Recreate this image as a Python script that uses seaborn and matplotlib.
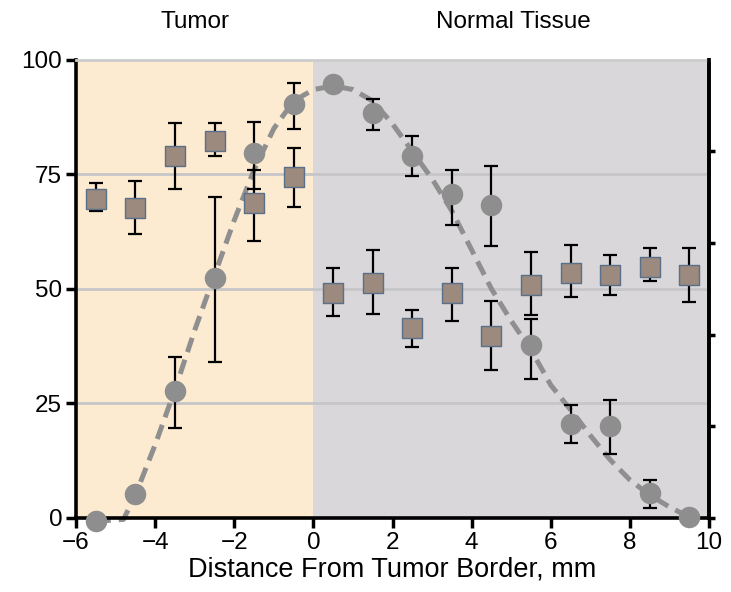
import numpy as np
import matplotlib.pyplot as plt
import matplotlib.transforms as mtransforms
import seaborn as sns

# Distance bins (mm from tumor border)
dist = [-5.5, -4.5, -3.5, -2.5, -1.5, -0.5, 0.5, 1.5, 2.5, 3.5, 4.5, 5.5, 6.5, 7.5, 8.5, 9.5]

# Circle series (mean, lower, upper)
circ = [-0.7, 5.2, 27.7, 52.4, 79.7, 90.4, 94.7, 88.4, 78.9, 70.7, 68.3, 37.8, 20.5, 20.1, 5.5, 0.2]
circ_lo = [-0.7, 5.2, 19.7, 34.0, 71.8, 85.0, 94.7, 84.7, 74.7, 64.0, 59.4, 30.3, 16.4, 14.0, 2.2, 0.2]
circ_hi = [-0.7, 5.2, 35.2, 70.0, 86.5, 95.0, 94.7, 91.5, 83.3, 76.0, 76.9, 43.4, 24.7, 25.8, 8.3, 0.2]

# Square series (mean, lower, upper)
sq = [69.7, 67.7, 78.9, 82.3, 68.8, 74.5, 49.1, 51.3, 41.5, 49.1, 39.7, 50.9, 53.5, 53.1, 54.8, 53.1]
sq_lo = [67.0, 62.0, 71.8, 78.9, 60.5, 67.9, 44.1, 44.5, 37.3, 43.0, 32.3, 44.3, 48.3, 48.7, 51.7, 47.2]
sq_hi = [73.2, 73.6, 86.3, 86.2, 76.0, 80.8, 54.6, 58.5, 45.4, 54.6, 47.4, 58.0, 59.6, 57.4, 58.9, 58.9]

# Fitted curve
fit_x = [-5.5, -4.8, -4.5, -4.0, -3.5, -3.0, -2.5, -2.0, -1.5, -1.0, -0.5, 0.0, 0.5,
         1.0, 1.5, 2.0, 2.5, 3.0, 3.5, 4.0, 4.5, 5.0, 5.5, 6.0, 6.5, 7.0, 7.5, 8.0, 8.5, 9.0, 9.5]
fit_y = [-0.7, -0.3, 5.0, 16.0, 28.0, 41.0, 53.0, 65.0, 76.0, 85.0, 91.0, 93.5, 94.3,
         93.5, 91.0, 86.0, 80.0, 74.0, 67.0, 58.5, 50.0, 43.0, 36.7, 29.0, 23.6, 18.0, 12.7, 8.3, 5.0, 2.4, 0.2]

sns.set_theme(style="ticks")
plt.rcParams['font.family'] = ['Liberation Sans', 'DejaVu Sans']
plt.rcParams['text.color'] = 'black'
plt.rcParams['axes.labelcolor'] = 'black'
plt.rcParams['xtick.color'] = 'black'
plt.rcParams['ytick.color'] = 'black'

fig = plt.figure(figsize=(7.31, 5.92), dpi=100)
ax = fig.add_axes([0.104, 0.125, 0.866, 0.774])

ax.axvspan(-6, 0, color='#fdebd1', zorder=0, lw=0)
ax.axvspan(0, 10, color='#d9d7d9', zorder=0, lw=0)
for g in [25, 50, 75]:
    ax.axhline(g, color='#c6c6c8', lw=2, zorder=1)

d = np.array(dist)
c = np.array(circ)
s = np.array(sq)

ax.errorbar(d, c, yerr=[c - np.array(circ_lo), np.array(circ_hi) - c], fmt='none',
            ecolor='black', elinewidth=1.6, capsize=5, capthick=1.6, zorder=3)
ax.errorbar(d, s, yerr=[s - np.array(sq_lo), np.array(sq_hi) - s], fmt='none',
            ecolor='black', elinewidth=1.6, capsize=5, capthick=1.6, zorder=3)

sns.lineplot(x=fit_x, y=fit_y, ax=ax, color='#8f8f8f', lw=3.6, zorder=2,
             dashes=False, linestyle=(0, (3, 1.6)))
ax.lines[-1].set_clip_on(False)

sns.scatterplot(x=dist, y=circ, ax=ax, marker='o', s=240, color='#8e8e8e',
                edgecolor='#8e8e8e', linewidth=0, zorder=4, clip_on=False)
sns.scatterplot(x=dist, y=sq, ax=ax, marker='s', s=190, color='#9b8a7d',
                edgecolor='#5a6f8a', linewidth=1.0, zorder=5, clip_on=False)

ax.set_xlim(-6, 10)
ax.set_ylim(0, 100)
ax.set_xticks(np.arange(-6, 11, 2))
ax.set_yticks([0, 25, 50, 75, 100])
ax.tick_params(axis='both', labelsize=17.5, width=2.5, length=7, color='black',
               labelcolor='black', direction='out', pad=3)
ax.set_xlabel('Distance From Tumor Border, mm', fontsize=19.5, labelpad=2, color='black')
ax.set_ylabel('')

for side in ['left', 'bottom', 'right']:
    ax.spines[side].set_color('black')
    ax.spines[side].set_linewidth(2.6)
ax.spines['top'].set_color('#cccccc')
ax.spines['top'].set_linewidth(2)
ax.spines['right'].set_visible(True)
ax.spines['top'].set_visible(True)

ax2 = ax.twinx()
ax2.set_ylim(0, 100)
ax2.set_yticks([0, 20, 40, 60, 80])
ax2.set_yticklabels([])
ax2.tick_params(axis='y', width=2.5, length=4, color='black', direction='out')
for side in ['left', 'bottom', 'top']:
    ax2.spines[side].set_visible(False)
ax2.spines['right'].set_color('black')
ax2.spines['right'].set_linewidth(2.6)

trans = mtransforms.blended_transform_factory(ax.transData, ax.transAxes)
ax.text(-3, 1.083, 'Tumor', transform=trans, ha='center', va='center', fontsize=17.5, color='black')
ax.text(5.05, 1.083, 'Normal Tissue', transform=trans, ha='center', va='center', fontsize=17.5, color='black')

plt.savefig('out.png', dpi=100)
